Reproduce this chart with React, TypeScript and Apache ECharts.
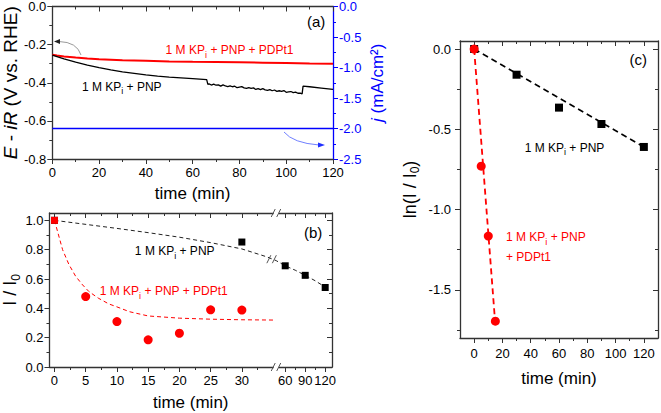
import React, { useEffect, useRef } from 'react';
import * as echarts from 'echarts';

// ---------------- data: panel (a) ----------------
const aBlackTime = [0, 1, 3, 5, 10, 15, 20, 25, 30, 35, 40, 45, 50, 55, 60, 63, 66, 66.5,
  67, 68, 69, 70, 71, 72, 73, 74, 75, 76, 77, 78, 79, 80, 81, 82, 83, 84, 85, 86,
  87, 88, 89, 90, 91, 92, 93, 94, 95, 96, 97, 98, 99, 100, 101, 102, 103, 104, 105, 106,
  106.8, 107.2, 110, 115, 120];
const aBlackPot = [-0.255, -0.259, -0.267, -0.275, -0.292, -0.307, -0.321, -0.333, -0.343, -0.351, -0.359, -0.365, -0.370, -0.374, -0.378, -0.381, -0.384, -0.409,
  -0.406, -0.412, -0.407, -0.413, -0.411, -0.418, -0.411, -0.417, -0.420, -0.416, -0.421, -0.418, -0.426, -0.423, -0.420, -0.427, -0.430, -0.426, -0.430, -0.427,
  -0.435, -0.431, -0.436, -0.431, -0.437, -0.440, -0.436, -0.442, -0.438, -0.445, -0.442, -0.445, -0.441, -0.450, -0.448, -0.446, -0.452, -0.449, -0.455, -0.454,
  -0.458, -0.418, -0.421, -0.428, -0.435];
const aRedTime = [0, 2, 5, 10, 15, 20, 30, 40, 50, 60, 70, 80, 90, 100, 110, 120];
const aRedPot = [-0.253, -0.257, -0.262, -0.268, -0.273, -0.277, -0.282, -0.285, -0.288, -0.290, -0.291, -0.293, -0.295, -0.297, -0.299, -0.300];
const aBlueTime = [0, 120];
const aBlueJ = [-2.0, -2.0];

// ---------------- data: panel (b) ----------------
const bTickTimes = [0, 5, 10, 15, 20, 25, 30, 60, 90, 120];
const bMinorTimes = [2.5, 7.5, 12.5, 17.5, 22.5, 27.5, 32.5, 75, 105];
const bRedTime = [0, 5, 10, 15, 20, 25, 30];
const bRedRatio = [1.0, 0.48, 0.31, 0.185, 0.23, 0.39, 0.388];
const bBlackTime = [0, 30, 60, 90, 120];
const bBlackRatio = [1.0, 0.852, 0.69, 0.625, 0.542];
const bRedFitTime = [0, 1.3, 2.3, 3.4, 4.5, 5.5, 7, 8.7, 10, 12, 15, 20, 25, 30, 35.3];
const bRedFitRatio = [1.0, 0.8, 0.7, 0.618, 0.56, 0.515, 0.47, 0.43, 0.41, 0.377, 0.348, 0.333, 0.326, 0.322, 0.32];
const bBlackFitTime = [0, 10, 15, 20, 25, 30, 34, 35.5, 60, 75, 90, 105, 120];
const bBlackFitRatio = [1.0, 0.945, 0.916, 0.885, 0.848, 0.805, 0.751, 0.725, 0.69, 0.66, 0.625, 0.588, 0.545];
const bYTicks = [0, 0.2, 0.4, 0.6, 0.8, 1.0];
const bYMinor = [0.1, 0.3, 0.5, 0.7, 0.9];

// ---------------- data: panel (c) ----------------
const cBlackTime = [0, 30, 60, 90, 120];
const cBlackLn = [0, -0.16, -0.365, -0.467, -0.61];
const cRedTime = [0, 5, 10, 15];
const cRedLn = [0, -0.73, -1.165, -1.695];
const cBlackFitTime = [0, 120];
const cBlackFitLn = [0, -0.61];
const cRedFitTime = [0, 15];
const cRedFitLn = [0, -1.72];
const cXTicks = [0, 20, 40, 60, 80, 100, 120];
const cXMinor = [10, 30, 50, 70, 90, 110];
const cYTicks = [-1.5, -1.0, -0.5, 0];
const cYMinor = [-1.75, -1.25, -0.75, -0.25];

// ---------------- style ----------------
const FONT = "'Liberation Sans', Arial, Helvetica, sans-serif";
const AX = '#333333';
const RED = '#ff0000';
const BLUE = '#0000ff';

// broken time axis of panel (b): 0-35.5 min linear, then compressed 46.5-120
const toU = (t: number) => (t <= 35.5 ? t : t >= 46.5 ? 35.5 + (t - 46.5) * 0.10667 : 35.5);
const zip = (xs: number[], ys: number[], f: (x: number) => number = (x) => x) => xs.map((x, i) => [f(x), ys[i]]);

function axis(o: any) {
  const c = o.color || AX;
  const a: any = {
    type: 'value', gridIndex: o.grid, position: o.pos, min: o.min, max: o.max,
    axisLine: { show: o.line !== false, onZero: false, lineStyle: { color: c, width: 1.3 } },
    splitLine: { show: false },
    axisTick: { show: true, inside: !!o.inside, length: o.len ?? 5, lineStyle: { color: c, width: 1 } },
    minorTick: { show: !!o.minor, splitNumber: o.minor || 5, length: 3, lineStyle: { color: c, width: 1 } },
    axisLabel: { show: !!o.labels, color: o.color === BLUE ? BLUE : '#000', fontFamily: FONT, fontSize: 13, fontWeight: 'normal', margin: o.margin ?? 6 },
  };
  if (o.fmt) a.axisLabel.formatter = o.fmt;
  if (o.interval !== undefined) a.interval = o.interval;
  if (o.ticks) a.axisTick.customValues = o.ticks;
  if (Array.isArray(o.labels)) a.axisLabel.customValues = o.labels;
  if (o.name) {
    a.name = o.name; a.nameLocation = 'middle'; a.nameGap = o.nameGap; a.nameTextStyle = o.nameStyle;
  }
  return a;
}

const nameStyle = (size: number, color = '#000', extra: any = {}) => ({
  fontFamily: FONT, fontSize: size, color, fontWeight: 'normal', ...extra,
  rich: {
    n: { fontFamily: FONT, fontSize: size, color, fontWeight: 'normal', lineHeight: size + 5, verticalAlign: 'middle' },
    i: { fontFamily: FONT, fontSize: size, color, fontWeight: 'normal', fontStyle: 'italic', lineHeight: size + 5, verticalAlign: 'middle' },
    s: { fontFamily: FONT, fontSize: size - 6, color, fontWeight: 'normal', lineHeight: size - 6, verticalAlign: 'bottom' },
  },
});

const f1 = (v: number) => v.toFixed(1);
const bTickU = bTickTimes.map(toU);
const bFmt = (v: number) => {
  const i = bTickU.findIndex((u) => Math.abs(u - v) < 0.01);
  return i >= 0 ? String(bTickTimes[i]) : '';
};
const B_MIN = -0.8, B_MAX = 44.43;

function buildOption(): any {
  const xAxis = [
    // (a)
    axis({ grid: 0, pos: 'bottom', min: 0, max: 120, interval: 20, minor: 2, labels: true, margin: 7 }),
    axis({ grid: 0, pos: 'top', min: 0, max: 120, interval: 20, minor: 2, inside: true }),
    // (b)
    axis({ grid: 1, pos: 'bottom', min: B_MIN, max: B_MAX, ticks: bTickU, labels: bTickU, fmt: bFmt, margin: 7 }),
    axis({ grid: 1, pos: 'bottom', min: B_MIN, max: B_MAX, ticks: bMinorTimes.map(toU), line: false, len: 3 }),
    axis({ grid: 1, pos: 'top', min: B_MIN, max: B_MAX, ticks: bTickU, inside: true }),
    axis({ grid: 1, pos: 'top', min: B_MIN, max: B_MAX, ticks: bMinorTimes.map(toU), inside: true, line: false, len: 3 }),
    // (c)
    axis({ grid: 2, pos: 'bottom', min: -10, max: 130, ticks: cXTicks, labels: cXTicks, fmt: (v: number) => String(v), margin: 9 }),
    axis({ grid: 2, pos: 'bottom', min: -10, max: 130, ticks: cXMinor, line: false, len: 3 }),
    axis({ grid: 2, pos: 'top', min: -10, max: 130, ticks: cXTicks, inside: true }),
    axis({ grid: 2, pos: 'top', min: -10, max: 130, ticks: cXMinor, inside: true, line: false, len: 3 }),
  ];
  const yAxis = [
    // (a)
    axis({ grid: 0, pos: 'left', min: -0.8, max: 0, interval: 0.2, minor: 2, labels: true, fmt: f1,
      name: '{i|E}{n| - }{i|iR}{n| (V vs. RHE)}', nameGap: 28, nameStyle: nameStyle(19) }),
    axis({ grid: 0, pos: 'right', min: -2.5, max: 0, interval: 0.5, minor: 2, labels: true, fmt: f1, color: BLUE,
      name: '{i|j}{n| (mA/cm²)}', nameGap: 33, nameStyle: nameStyle(17, BLUE) }),
    // (b)
    axis({ grid: 1, pos: 'left', min: 0, max: 1.05, ticks: bYTicks, labels: bYTicks, fmt: f1,
      name: '{n|I / I}{s|0}', nameGap: 27, nameStyle: nameStyle(18) }),
    axis({ grid: 1, pos: 'left', min: 0, max: 1.05, ticks: bYMinor, line: false, len: 3 }),
    axis({ grid: 1, pos: 'right', min: 0, max: 1.05, ticks: bYTicks, inside: true }),
    axis({ grid: 1, pos: 'right', min: 0, max: 1.05, ticks: bYMinor, inside: true, line: false, len: 3 }),
    // (c)
    axis({ grid: 2, pos: 'left', min: -1.8, max: 0.05, ticks: cYTicks, labels: cYTicks, fmt: f1, margin: 9,
      name: '{n|ln(I / I}{s|0}{n|)}', nameGap: 39, nameStyle: nameStyle(18) }),
    axis({ grid: 2, pos: 'left', min: -1.8, max: 0.05, ticks: cYMinor, line: false, len: 3 }),
    axis({ grid: 2, pos: 'right', min: -1.8, max: 0.05, ticks: cYTicks, inside: true }),
    axis({ grid: 2, pos: 'right', min: -1.8, max: 0.05, ticks: cYMinor, inside: true, line: false, len: 3 }),
  ];

  const line = (xi: number, yi: number, data: number[][], color: string, width: number, dash?: number[]) => ({
    type: 'line', xAxisIndex: xi, yAxisIndex: yi, data, showSymbol: false, symbol: 'none', silent: true,
    lineStyle: { color, width, type: dash || 'solid' }, z: 2,
  });
  const pts = (xi: number, yi: number, data: any[], color: string, symbol: string, size: number) => ({
    type: 'scatter', xAxisIndex: xi, yAxisIndex: yi, data, symbol, symbolSize: size, silent: true,
    itemStyle: { color, opacity: 1 }, z: 5,
  });

  const bRed: any[] = zip(bRedTime, bRedRatio, toU).map((p, i) => (i === 0 ? { value: p, symbol: 'rect', symbolSize: 7 } : p));

  return {
    animation: false,
    backgroundColor: '#ffffff',
    textStyle: { fontFamily: FONT, fontWeight: 'normal' },
    grid: [
      { left: 48, top: 6, width: 285, height: 153, containLabel: false },
      { left: 48, top: 213, width: 284, height: 154, containLabel: false },
      { left: 460, top: 41, width: 198, height: 297, containLabel: false },
    ],
    xAxis, yAxis,
    series: [
      line(0, 1, zip(aBlueTime, aBlueJ), BLUE, 1.5),
      line(0, 0, zip(aRedTime, aRedPot), RED, 2),
      line(0, 0, zip(aBlackTime, aBlackPot), '#000', 1.3),
      line(2, 2, zip(bRedFitTime, bRedFitRatio, toU), RED, 1, [4, 3]),
      line(2, 2, zip(bBlackFitTime, bBlackFitRatio, toU), '#222', 1, [4, 3]),
      pts(2, 2, zip(bBlackTime, bBlackRatio, toU), '#000', 'rect', 7),
      pts(2, 2, bRed, RED, 'circle', 9),
      line(6, 6, zip(cBlackFitTime, cBlackFitLn), '#000', 1.6, [6, 4]),
      line(6, 6, zip(cRedFitTime, cRedFitLn), RED, 1.8, [6, 4]),
      pts(6, 6, zip(cBlackTime, cBlackLn), '#000', 'rect', 8),
      pts(6, 6, zip(cRedTime, cRedLn), RED, 'circle', 9),
    ],
  };
}

function text(p: number[], str: string, color: string, size = 12, align = 'center') {
  return {
    type: 'text', x: p[0], y: p[1], z: 100,
    style: {
      text: str, fill: color, fontFamily: FONT, fontSize: size, fontWeight: 'normal',
      align, textAlign: align, verticalAlign: 'middle', textVerticalAlign: 'middle',
      rich: {
        n: { fill: color, fontFamily: FONT, fontSize: size, lineHeight: 18, verticalAlign: 'middle' },
        s: { fill: color, fontFamily: FONT, fontSize: 9, lineHeight: 9, verticalAlign: 'bottom' },
      },
    },
  };
}

function slashes(p: number[], gap: boolean) {
  const [cx, cy] = p;
  const els: any[] = [];
  if (gap) els.push({ type: 'rect', z: 99, shape: { x: cx - 2.5, y: cy - 5, width: 5, height: 10 }, style: { fill: '#fff' } });
  els.push({ type: 'line', z: 100, shape: { x1: cx - 5, y1: cy + 4, x2: cx - 1, y2: cy - 4 }, style: { stroke: '#555', lineWidth: 1 } });
  els.push({ type: 'line', z: 100, shape: { x1: cx + 0.5, y1: cy + 4, x2: cx + 4.5, y2: cy - 4 }, style: { stroke: '#555', lineWidth: 1 } });
  return els;
}

function buildGraphics(chart: any) {
  const px = (xi: number, yi: number, x: number, y: number) =>
    chart.convertToPixel({ xAxisIndex: xi, yAxisIndex: yi }, [x, y]) as number[];
  const below = (p: number[], d: number) => [p[0], p[1] + d];
  const sub = '{n|1 M KP}{s|i}{n| + PNP}';
  const els: any[] = [
    // x-axis titles
    text(below(px(0, 0, 60, -0.8), 34), 'time (min)', '#000', 17),
    text(below(px(2, 2, (B_MIN + B_MAX) / 2, 0), 35), 'time (min)', '#000', 17),
    text(below(px(6, 6, 60, -1.8), 40), 'time (min)', '#000', 17),
    // annotations
    text(px(0, 0, 112.8, -0.079), '(a)', '#000', 15),
    text(px(0, 0, 75.8, -0.23), '{n|1 M KP}{s|i}{n| + PNP + PDPt1}', RED),
    text(px(0, 0, 29.7, -0.42), sub, '#000'),
    text(px(2, 2, 41.4, 0.916), '(b)', '#000', 15),
    text(px(2, 2, 19.25, 0.79), sub, '#000'),
    text(px(2, 2, 17.5, 0.515), '{n|1 M KP}{s|i}{n| + PNP + PDPt1}', RED),
    text(px(6, 6, 116, -0.067), '(c)', '#000', 15),
    text(px(6, 6, 63.9, -0.614), sub, '#000'),
    text(px(6, 6, 22.5, -1.171), sub, RED, 12, 'left'),
    text(px(6, 6, 22.5, -1.296), '{n|+ PDPt1}', RED, 12, 'left'),
    // arrows of panel (a)
    { type: 'bezierCurve', z: 100, shape: { x1: 81, y1: 55, x2: 59, y2: 41.5, cpx1: 77, cpy1: 42 }, style: { stroke: '#999', lineWidth: 1, fill: 'none' } },
    { type: 'polygon', z: 100, shape: { points: [[54, 41.5], [60, 39], [60, 44]] }, style: { fill: '#222' } },
    { type: 'bezierCurve', z: 100, shape: { x1: 284, y1: 132, x2: 319, y2: 145, cpx1: 293, cpy1: 143 }, style: { stroke: '#7080ff', lineWidth: 1, fill: 'none' } },
    { type: 'polygon', z: 100, shape: { points: [[325, 145], [318, 142.5], [318, 147.5]] }, style: { fill: '#2030ff' } },
  ];
  els.push(...slashes(px(2, 2, toU(35.5), 0), true));
  els.push(...slashes(px(2, 2, toU(35.5), 1.05), true));
  els.push(...slashes(px(2, 2, 34.8, 0.735), false));
  return els;
}

export default function App() {
  const ref = useRef<HTMLDivElement>(null);
  useEffect(() => {
    const chart = echarts.init(ref.current!, null, { renderer: 'svg' });
    chart.setOption(buildOption());
    chart.setOption({ graphic: { elements: buildGraphics(chart) } });
    return () => chart.dispose();
  }, []);
  return (
    <div
      ref={ref}
      style={{ position: 'fixed', left: 0, top: 0, width: 661, height: 413, background: '#fff' }}
    />
  );
}
